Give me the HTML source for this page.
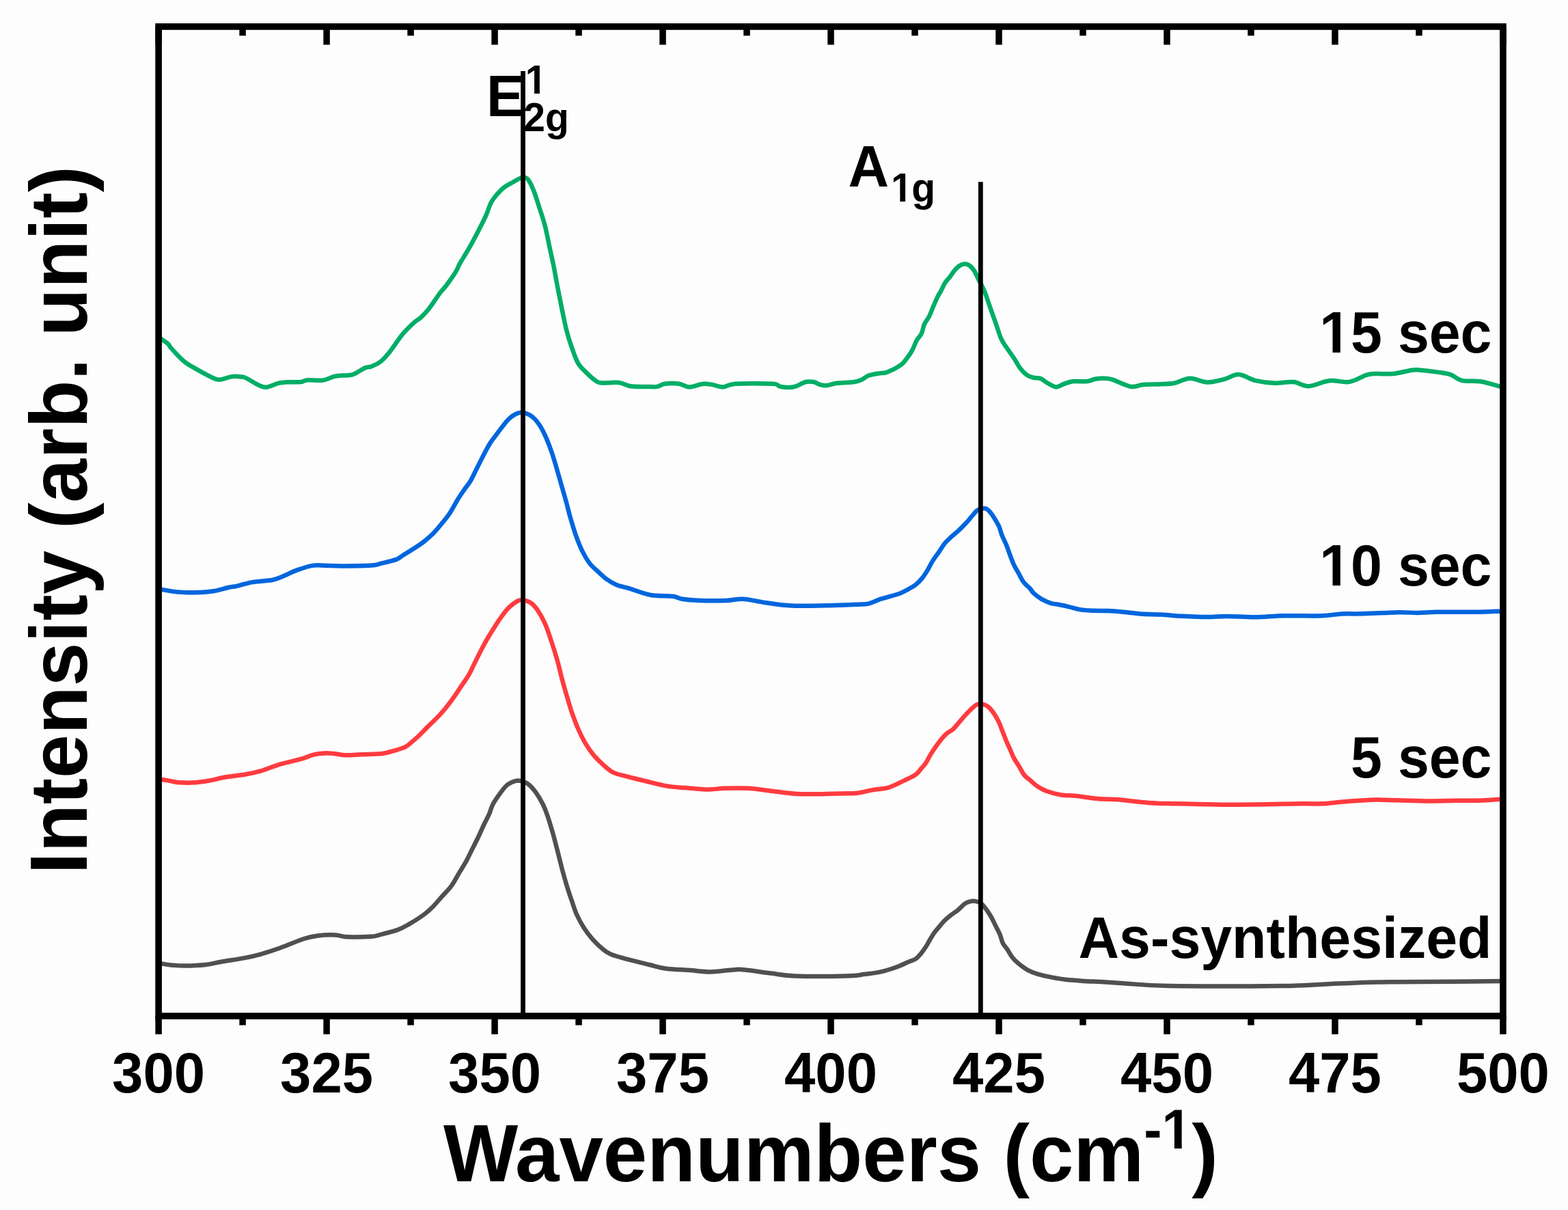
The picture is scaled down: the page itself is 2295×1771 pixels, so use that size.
<!DOCTYPE html><html><head><meta charset="utf-8"><title>Raman spectra</title><style>
html,body{margin:0;padding:0;background:#fdfdfd;}
svg{display:block;width:2295px;height:1771px;}
text{font-family:"Liberation Sans",Arial,sans-serif;font-weight:bold;fill:#000;}
</style></head><body>
<svg width="2295" height="1771" viewBox="0 0 2295 1771">
<rect x="0" y="0" width="2295" height="1771" fill="#fdfdfd"/>
<rect x="0" y="1766" width="2295" height="5" fill="#fff"/><rect x="0" y="0" width="1" height="1771" fill="#fff"/>
<path fill="none" stroke="#00AE66" stroke-width="6.5" stroke-linejoin="round" d="M232.0 493.4C234.3 495.0 242.6 500.3 245.7 503.0C248.8 505.7 246.5 505.2 250.3 509.4C254.1 513.6 263.2 523.5 268.6 528.2C274.0 532.9 275.5 533.4 282.4 537.4C289.3 541.4 303.3 549.2 309.8 552.2C316.3 555.2 316.3 555.9 321.3 555.7C326.3 555.5 334.3 551.8 339.6 551.1C344.9 550.4 349.9 551.2 353.3 551.6C356.7 552.0 356.0 551.4 360.2 553.4C364.4 555.4 373.5 561.5 378.5 563.7C383.5 565.9 385.0 567.2 390.0 566.7C395.0 566.2 403.4 561.9 408.3 560.7C413.2 559.5 414.4 559.6 419.7 559.3C425.0 559.0 435.3 559.6 440.3 559.1C445.3 558.6 444.1 556.8 449.5 556.4C454.9 556.0 465.9 557.5 472.4 556.6C478.9 555.7 484.2 552.2 488.4 551.1C492.6 550.0 493.0 550.2 497.6 549.7C502.2 549.2 509.8 550.3 515.9 548.4C522.0 546.5 529.6 540.5 534.2 538.5C538.8 536.5 539.6 537.9 543.4 536.4C547.2 534.9 552.5 532.9 557.1 529.3C561.7 525.6 565.5 521.2 570.8 514.5C576.1 507.8 583.4 496.2 589.1 489.3C594.8 482.4 600.6 477.0 605.2 472.8C609.8 468.6 612.8 467.7 616.6 464.1C620.4 460.6 623.5 457.4 628.1 451.5C632.7 445.6 640.0 434.1 644.1 428.6C648.2 423.1 648.7 423.8 652.5 418.7C656.3 413.6 663.5 403.4 667.0 397.9C670.5 392.3 670.1 390.9 673.2 385.4C676.3 379.9 681.2 372.6 685.7 364.7C690.2 356.8 696.1 345.7 700.3 337.7C704.4 329.7 707.5 323.8 710.6 316.9C713.7 310.0 716.2 301.5 719.0 296.1C721.8 290.7 724.2 288.3 727.3 284.7C730.4 281.1 733.9 277.2 737.7 274.3C741.5 271.4 745.6 269.4 750.1 267.0C754.6 264.6 760.9 260.4 764.7 259.7C768.5 259.0 770.2 259.6 773.0 262.9C775.8 266.2 778.5 272.6 781.3 279.5C784.1 286.4 786.8 295.8 789.6 304.4C792.4 313.0 795.5 322.0 797.9 331.4C800.3 340.8 802.0 350.8 804.1 360.5C806.2 370.2 808.3 379.2 810.4 389.6C812.5 400.0 814.5 412.1 816.6 422.8C818.7 433.5 820.7 443.9 822.8 454.0C824.9 464.1 827.0 474.8 829.1 483.1C831.2 491.4 832.5 495.9 835.3 503.9C838.1 511.9 841.9 524.0 845.7 530.9C849.5 537.8 853.7 540.9 858.2 545.4C862.7 549.9 868.9 555.4 872.7 557.9C876.5 560.4 875.5 560.0 881.0 560.4C886.5 560.8 898.9 559.2 905.9 560.0C912.9 560.8 916.2 564.2 922.9 565.2C929.5 566.2 939.3 565.8 945.8 565.9C952.3 566.0 957.2 566.6 961.8 565.9C966.4 565.2 967.9 562.4 973.3 561.7C978.6 561.0 988.0 560.9 993.9 561.7C999.8 562.5 1003.0 566.5 1008.7 566.5C1014.4 566.5 1022.7 562.6 1028.2 562.0C1033.7 561.4 1036.9 562.1 1041.9 562.9C1046.9 563.6 1052.3 566.7 1058.0 566.5C1063.7 566.3 1064.1 562.5 1076.3 561.7C1088.5 560.9 1120.5 561.1 1131.2 561.7C1141.9 562.3 1137.0 564.5 1140.4 565.4C1143.8 566.3 1148.0 566.9 1151.8 567.0C1155.6 567.1 1158.7 567.2 1163.3 565.9C1167.9 564.6 1174.7 560.1 1179.3 559.0C1183.9 557.9 1187.4 558.4 1190.8 559.0C1194.2 559.6 1196.9 562.0 1199.9 562.9C1203.0 563.8 1204.9 564.6 1209.1 564.2C1213.3 563.9 1218.2 561.7 1225.1 560.8C1232.0 559.9 1244.2 559.9 1250.3 559.0C1256.4 558.1 1258.3 557.0 1261.7 555.5C1265.1 554.0 1266.7 551.3 1270.9 549.8C1275.1 548.3 1282.3 547.2 1286.9 546.4C1291.5 545.6 1293.1 546.9 1298.4 544.8C1303.8 542.7 1314.0 537.4 1319.0 533.8C1324.0 530.2 1325.5 526.7 1328.2 523.2C1330.9 519.7 1332.8 517.1 1335.1 512.9C1337.4 508.6 1339.7 501.8 1342.0 497.7C1344.3 493.6 1347.0 492.0 1348.8 488.1C1350.6 484.2 1351.2 478.5 1353.0 474.4C1354.8 470.3 1357.5 468.0 1359.8 463.4C1362.1 458.8 1364.6 451.7 1366.7 446.9C1368.8 442.1 1370.4 438.3 1372.2 434.6C1374.0 430.9 1375.9 428.3 1377.7 424.9C1379.5 421.5 1381.2 417.2 1383.2 414.0C1385.2 410.8 1387.7 408.7 1390.0 405.7C1392.3 402.7 1394.6 398.9 1396.9 396.1C1399.2 393.4 1401.3 390.9 1403.8 389.2C1406.3 387.5 1409.5 386.3 1412.0 386.2C1414.5 386.1 1416.6 386.9 1418.9 388.5C1421.2 390.1 1423.5 392.6 1425.8 396.1C1428.1 399.7 1430.1 404.8 1432.6 409.8C1435.1 414.8 1438.2 419.7 1440.9 426.3C1443.7 432.9 1446.3 441.9 1449.1 449.7C1451.8 457.5 1454.7 465.2 1457.4 473.0C1460.2 480.8 1462.6 490.0 1465.6 496.4C1468.6 502.8 1472.0 506.7 1475.2 511.5C1478.4 516.3 1481.8 520.6 1484.8 525.2C1487.8 529.8 1490.1 535.1 1493.1 539.0C1496.1 542.9 1499.5 546.3 1502.7 548.6C1505.9 550.9 1508.9 551.8 1512.3 552.7C1515.7 553.6 1520.1 553.0 1523.3 554.1C1526.5 555.2 1527.8 557.6 1531.5 559.6C1535.2 561.6 1541.2 566.0 1545.3 566.4C1549.4 566.8 1552.2 563.7 1556.3 562.3C1560.4 560.9 1564.3 558.9 1570.0 558.2C1575.7 557.5 1585.1 558.8 1590.6 558.2C1596.1 557.6 1599.2 555.5 1603.0 554.8C1606.8 554.1 1609.6 553.7 1613.7 553.8C1617.8 553.9 1620.6 553.4 1627.5 555.4C1634.4 557.4 1647.3 564.6 1654.9 565.9C1662.5 567.2 1666.0 563.6 1673.3 563.0C1680.5 562.4 1690.8 562.7 1698.4 562.3C1706.0 561.9 1711.8 562.1 1719.0 560.7C1726.2 559.3 1733.9 554.0 1741.9 553.8C1749.9 553.6 1758.7 559.3 1767.1 559.5C1775.5 559.7 1784.7 556.8 1792.3 554.9C1799.9 553.0 1805.3 547.7 1812.9 548.1C1820.5 548.5 1829.3 555.1 1838.1 557.2C1846.9 559.3 1856.4 560.4 1865.6 560.7C1874.8 561.0 1884.6 558.4 1893.0 559.1C1901.4 559.9 1907.1 565.5 1915.9 565.2C1924.7 564.9 1935.9 558.2 1945.7 557.2C1955.5 556.2 1966.0 560.3 1975.0 558.9C1984.0 557.5 1993.2 550.8 2000.0 548.8C2006.8 546.8 2009.0 547.3 2015.5 547.0C2022.0 546.7 2030.8 547.9 2039.3 547.0C2047.8 546.1 2059.9 542.6 2066.7 541.7C2073.4 540.8 2073.7 541.2 2079.8 541.7C2086.0 542.2 2096.5 543.5 2103.6 544.6C2110.7 545.7 2116.4 546.1 2122.6 548.2C2128.8 550.3 2133.2 555.4 2140.5 557.1C2147.8 558.8 2156.9 556.7 2166.7 558.3C2176.4 559.9 2193.6 565.3 2199.0 566.7"/>
<path fill="none" stroke="#0066DD" stroke-width="6.5" stroke-linejoin="round" d="M232.0 862.0C235.8 862.6 248.0 865.0 254.9 865.9C261.8 866.8 267.1 867.0 273.2 867.2C279.3 867.4 285.0 867.3 291.5 867.0C298.0 866.7 304.9 866.4 312.1 865.2C319.4 864.0 329.3 860.9 335.0 859.7C340.7 858.5 340.8 859.1 346.5 857.8C352.2 856.5 360.6 853.6 369.4 852.1C378.2 850.6 391.5 850.2 399.1 848.7C406.7 847.2 409.5 845.3 415.2 843.0C420.9 840.7 426.2 837.5 433.5 834.9C440.8 832.3 450.3 828.7 458.7 827.6C467.1 826.5 475.8 828.0 483.8 828.1C491.8 828.2 496.8 828.6 506.7 828.5C516.6 828.4 535.0 828.2 543.4 827.6C551.8 827.0 551.0 826.4 557.1 824.9C563.2 823.4 574.7 820.8 580.0 818.9C585.3 817.0 584.5 816.1 589.1 813.2C593.7 810.3 602.4 805.1 607.5 801.7C612.6 798.4 615.6 796.6 620.0 793.1C624.4 789.6 629.5 785.3 633.8 781.0C638.1 776.7 641.8 772.2 645.8 767.3C649.8 762.4 653.9 757.8 657.9 751.8C661.9 745.8 666.2 737.1 669.9 731.1C673.6 725.1 677.1 720.2 680.2 715.6C683.4 711.0 685.9 708.5 688.8 703.6C691.7 698.7 694.6 692.1 697.5 686.4C700.4 680.7 703.0 675.2 706.1 669.2C709.2 663.2 713.2 655.4 716.4 650.2C719.5 645.0 721.9 642.5 725.0 638.2C728.1 633.9 731.9 628.7 735.3 624.4C738.7 620.1 742.1 615.5 745.6 612.4C749.1 609.2 752.8 606.9 756.0 605.5C759.2 604.1 761.5 603.5 764.6 603.8C767.8 604.1 771.8 605.5 774.9 607.2C778.0 608.9 780.6 611.0 783.5 614.1C786.4 617.2 789.5 621.8 792.1 626.1C794.7 630.4 796.4 633.9 799.0 639.9C801.6 645.9 805.0 654.8 807.6 662.3C810.2 669.8 812.2 677.0 814.5 684.7C816.8 692.5 819.1 700.8 821.4 708.8C823.7 716.8 826.0 724.6 828.3 732.9C830.6 741.2 832.5 749.8 835.1 758.7C837.7 767.6 840.9 778.2 843.8 786.2C846.7 794.2 849.2 800.6 852.4 806.9C855.5 813.2 859.0 819.2 862.7 824.1C866.4 829.0 870.4 832.1 874.7 836.1C879.0 840.1 883.9 844.9 888.5 848.2C893.1 851.5 896.6 853.6 902.3 855.9C908.0 858.2 914.5 859.3 922.9 861.8C931.3 864.3 942.4 869.2 952.7 871.0C963.0 872.8 977.1 871.8 984.7 872.8C992.3 873.8 991.5 875.7 998.4 876.7C1005.3 877.7 1015.2 878.6 1025.9 879.0C1036.6 879.4 1052.2 879.4 1062.5 879.0C1072.8 878.6 1078.2 876.2 1087.7 876.7C1097.2 877.2 1108.0 880.4 1119.8 882.0C1131.6 883.6 1141.9 885.9 1158.7 886.5C1175.5 887.1 1204.5 886.2 1220.5 885.9C1236.5 885.6 1246.5 885.1 1254.9 884.7C1263.3 884.3 1265.2 884.9 1270.9 883.6C1276.6 882.3 1281.6 879.2 1289.2 876.7C1296.8 874.2 1309.8 871.2 1316.7 868.7C1323.6 866.2 1326.5 863.9 1330.4 861.8C1334.3 859.7 1336.8 858.6 1340.0 856.0C1343.2 853.4 1346.6 850.1 1349.6 846.4C1352.6 842.7 1355.4 838.1 1357.9 834.0C1360.4 829.9 1362.0 826.0 1364.7 821.6C1367.4 817.2 1371.3 812.2 1374.3 807.9C1377.3 803.5 1379.6 799.2 1382.6 795.5C1385.6 791.8 1388.8 789.1 1392.2 785.9C1395.6 782.7 1399.5 779.7 1403.2 776.3C1406.9 772.9 1411.0 768.7 1414.2 765.3C1417.4 761.9 1419.7 758.8 1422.4 755.7C1425.2 752.6 1427.5 748.8 1430.7 746.8C1433.9 744.8 1438.6 743.7 1441.6 744.0C1444.6 744.3 1446.2 746.4 1448.5 748.8C1450.8 751.2 1453.1 754.8 1455.4 758.5C1457.7 762.2 1460.5 766.7 1462.3 770.8C1464.1 774.9 1464.6 778.6 1466.4 783.2C1468.2 787.8 1471.2 793.3 1473.2 798.3C1475.2 803.3 1476.9 808.6 1478.7 813.4C1480.5 818.2 1482.1 822.8 1484.2 827.1C1486.3 831.5 1488.8 835.4 1491.1 839.5C1493.4 843.6 1495.2 848.2 1498.0 851.9C1500.8 855.6 1505.1 858.8 1507.6 861.5C1510.1 864.2 1510.3 865.9 1513.1 868.4C1515.8 870.9 1520.0 874.2 1524.1 876.6C1528.2 879.0 1533.7 881.4 1537.8 882.8C1541.9 884.2 1544.2 883.9 1548.8 884.8C1553.4 885.7 1559.8 887.0 1565.3 888.3C1570.8 889.6 1575.8 891.5 1581.8 892.4C1587.8 893.3 1594.5 893.5 1601.0 893.8C1607.5 894.1 1614.1 893.8 1620.9 894.1C1627.7 894.4 1633.8 894.8 1641.9 895.5C1650.1 896.2 1660.1 897.8 1669.8 898.5C1679.5 899.2 1690.0 899.1 1700.0 899.6C1710.0 900.1 1718.7 901.2 1730.0 901.8C1741.3 902.4 1756.7 903.1 1767.6 903.1C1778.5 903.1 1783.9 901.9 1795.5 901.9C1807.1 901.9 1823.4 903.4 1837.4 903.3C1851.4 903.2 1863.0 901.6 1879.3 901.3C1895.6 901.0 1921.2 901.8 1935.2 901.3C1949.2 900.8 1953.8 899.0 1963.1 898.5C1972.4 898.0 1977.1 898.7 1991.1 898.3C2005.1 897.9 2032.9 896.5 2046.9 896.3C2060.9 896.1 2065.6 897.0 2074.9 896.9C2084.2 896.8 2088.8 896.0 2102.8 895.8C2116.8 895.6 2142.7 896.0 2158.7 895.8C2174.7 895.6 2192.3 894.6 2199.0 894.4"/>
<path fill="none" stroke="#FF3B3F" stroke-width="6.5" stroke-linejoin="round" d="M232.0 1140.1C234.3 1140.5 240.7 1141.6 245.7 1142.4C250.7 1143.2 254.9 1144.7 261.8 1145.2C268.7 1145.7 279.3 1145.7 286.9 1145.2C294.5 1144.7 300.6 1143.6 307.5 1142.4C314.4 1141.2 319.4 1139.3 328.2 1137.8C337.0 1136.3 351.4 1134.8 360.2 1133.3C369.0 1131.8 372.4 1131.2 380.8 1128.7C389.2 1126.2 400.3 1121.5 410.6 1118.4C420.9 1115.4 434.6 1112.7 442.6 1110.4C450.6 1108.1 453.4 1105.9 458.7 1104.6C464.0 1103.3 469.8 1102.7 474.7 1102.4C479.6 1102.1 483.1 1102.5 488.4 1103.0C493.7 1103.5 499.8 1105.1 506.7 1105.3C513.6 1105.5 520.8 1104.6 529.6 1104.2C538.4 1103.8 551.8 1103.8 559.6 1102.9C567.4 1102.0 570.8 1100.5 576.3 1098.9C581.8 1097.3 588.5 1095.5 592.9 1093.4C597.2 1091.3 599.2 1088.9 602.4 1086.3C605.6 1083.7 608.3 1081.4 611.9 1078.0C615.5 1074.6 620.0 1069.8 623.7 1066.1C627.4 1062.4 630.8 1059.2 634.0 1056.0C637.2 1052.8 639.8 1050.5 643.1 1046.9C646.4 1043.3 650.2 1039.0 653.8 1034.5C657.4 1030.0 660.9 1025.2 664.5 1020.2C668.1 1015.2 671.6 1009.5 675.2 1004.2C678.8 998.9 682.6 993.8 685.9 988.2C689.2 982.6 691.5 976.9 694.8 970.4C698.1 963.9 702.2 955.2 705.5 949.0C708.8 942.8 711.4 938.0 714.4 933.0C717.4 928.0 720.0 923.8 723.3 918.7C726.5 913.7 730.3 907.6 733.9 902.7C737.5 897.8 740.7 893.2 744.6 889.4C748.5 885.6 753.8 881.8 757.1 879.9C760.4 878.0 760.9 877.9 764.2 878.3C767.5 878.7 772.9 879.7 776.7 882.3C780.6 884.9 783.8 888.6 787.3 893.8C790.8 899.0 794.7 906.0 798.0 913.4C801.3 920.8 803.9 929.4 806.9 938.3C809.9 947.2 813.1 957.3 815.8 966.8C818.5 976.3 820.6 986.4 823.0 995.3C825.4 1004.2 827.7 1012.2 830.1 1020.2C832.5 1028.2 834.5 1035.7 837.2 1043.4C839.9 1051.1 842.8 1059.1 846.1 1066.5C849.4 1073.9 852.9 1081.4 856.8 1087.9C860.6 1094.4 864.8 1100.4 869.2 1105.7C873.7 1111.0 878.8 1115.8 883.5 1119.9C888.2 1124.1 891.9 1127.8 897.7 1130.6C903.5 1133.4 910.3 1134.4 918.3 1136.6C926.3 1138.8 936.3 1141.2 945.8 1143.5C955.3 1145.8 966.0 1148.8 975.5 1150.4C985.0 1152.0 992.7 1152.3 1003.0 1153.1C1013.3 1153.9 1027.9 1155.3 1037.4 1155.4C1047.0 1155.5 1050.8 1154.1 1060.3 1153.8C1069.8 1153.5 1083.2 1153.1 1094.6 1153.8C1106.0 1154.5 1117.5 1156.4 1128.9 1157.7C1140.4 1159.0 1151.8 1161.0 1163.3 1161.8C1174.8 1162.6 1186.1 1162.4 1197.6 1162.3C1209.0 1162.2 1222.5 1161.7 1232.0 1161.4C1241.5 1161.1 1247.3 1161.6 1254.9 1160.7C1262.5 1159.8 1270.1 1157.4 1277.7 1156.1C1285.3 1154.8 1293.0 1155.0 1300.6 1152.7C1308.2 1150.4 1316.9 1145.5 1323.5 1142.4C1330.1 1139.3 1335.9 1136.8 1340.0 1133.9C1344.1 1131.0 1345.7 1127.8 1348.2 1125.0C1350.7 1122.2 1352.8 1120.2 1355.1 1116.8C1357.4 1113.4 1359.5 1108.5 1362.0 1104.4C1364.5 1100.3 1367.2 1096.1 1370.2 1092.0C1373.2 1087.9 1377.0 1082.9 1379.8 1079.7C1382.5 1076.5 1384.2 1074.9 1386.7 1072.8C1389.2 1070.7 1391.9 1070.0 1394.9 1067.3C1397.9 1064.5 1401.4 1060.0 1404.6 1056.3C1407.8 1052.6 1411.2 1048.5 1414.2 1045.3C1417.2 1042.1 1419.7 1039.5 1422.4 1037.1C1425.2 1034.7 1427.5 1031.8 1430.7 1030.9C1433.9 1030.0 1438.6 1030.7 1441.6 1031.6C1444.6 1032.5 1446.2 1034.1 1448.5 1036.4C1450.8 1038.7 1453.1 1041.8 1455.4 1045.3C1457.7 1048.8 1460.2 1053.3 1462.3 1057.7C1464.3 1062.1 1465.9 1066.8 1467.7 1071.4C1469.5 1076.0 1471.4 1080.9 1473.2 1085.2C1475.0 1089.5 1476.9 1093.4 1478.7 1097.5C1480.5 1101.6 1482.1 1106.0 1484.2 1109.9C1486.3 1113.8 1488.6 1116.8 1491.1 1120.9C1493.6 1125.0 1496.3 1130.9 1499.3 1134.6C1502.3 1138.3 1505.8 1140.2 1509.0 1142.9C1512.2 1145.7 1514.7 1148.6 1518.6 1151.1C1522.5 1153.6 1526.6 1155.9 1532.3 1158.0C1538.0 1160.1 1546.0 1162.4 1552.9 1163.5C1559.8 1164.6 1566.6 1164.1 1573.5 1164.8C1580.4 1165.5 1587.2 1166.8 1594.1 1167.6C1601.0 1168.4 1607.7 1169.2 1614.7 1169.6C1621.7 1170.0 1625.2 1169.3 1636.3 1170.2C1647.3 1171.1 1667.0 1173.9 1681.0 1174.9C1695.0 1175.9 1698.2 1175.8 1720.1 1176.3C1742.0 1176.8 1781.6 1177.7 1812.3 1177.7C1843.0 1177.7 1884.0 1176.5 1904.5 1176.3C1925.0 1176.1 1925.0 1176.8 1935.2 1176.3C1945.4 1175.8 1953.8 1174.4 1965.9 1173.5C1978.0 1172.6 1994.8 1171.1 2007.8 1170.7C2020.8 1170.3 2030.1 1170.9 2044.1 1171.2C2058.1 1171.5 2077.2 1172.3 2091.6 1172.4C2106.0 1172.5 2117.7 1172.0 2130.7 1171.8C2143.7 1171.6 2158.4 1171.9 2169.8 1171.5C2181.2 1171.1 2194.1 1169.9 2199.0 1169.6"/>
<path fill="none" stroke="#505050" stroke-width="6.5" stroke-linejoin="round" d="M232.0 1409.7C235.1 1410.2 243.8 1411.8 250.3 1412.4C256.8 1413.1 262.5 1413.7 270.9 1413.6C279.3 1413.5 291.9 1413.0 300.7 1412.0C309.5 1411.0 314.1 1409.5 323.6 1407.8C333.1 1406.1 348.4 1403.9 357.9 1402.1C367.4 1400.3 372.0 1399.3 380.8 1396.8C389.6 1394.3 399.9 1391.0 410.6 1387.2C421.3 1383.4 435.8 1377.0 444.9 1374.0C454.0 1371.0 457.9 1370.3 465.5 1369.4C473.1 1368.5 483.8 1368.2 490.7 1368.5C497.6 1368.8 497.9 1370.8 506.7 1371.2C515.5 1371.6 535.0 1371.4 543.4 1370.8C551.8 1370.2 550.6 1369.4 557.1 1367.8C563.6 1366.2 575.4 1363.4 582.3 1360.9C589.2 1358.4 592.0 1356.6 598.3 1352.9C604.6 1349.2 614.0 1343.4 620.0 1339.0C626.0 1334.6 629.8 1331.0 634.2 1326.5C638.7 1322.0 642.2 1317.3 646.7 1312.3C651.2 1307.3 656.8 1301.9 660.9 1296.3C665.0 1290.7 668.0 1284.4 671.6 1278.4C675.2 1272.5 679.0 1266.5 682.3 1260.6C685.6 1254.7 688.2 1248.7 691.2 1242.8C694.2 1236.9 697.1 1231.2 700.1 1225.0C703.1 1218.8 706.3 1211.1 709.0 1205.5C711.7 1199.9 714.0 1196.0 716.1 1191.2C718.2 1186.5 718.8 1182.0 721.5 1177.0C724.2 1172.0 728.7 1165.7 732.2 1160.9C735.8 1156.2 738.9 1151.5 742.8 1148.5C746.6 1145.5 752.0 1143.7 755.3 1142.8C758.6 1141.9 759.4 1142.3 762.4 1143.1C765.4 1143.9 769.5 1144.9 773.1 1147.6C776.7 1150.3 780.2 1154.3 783.8 1159.2C787.4 1164.1 791.5 1171.1 794.5 1177.0C797.5 1182.9 799.2 1188.0 801.6 1194.8C804.0 1201.6 806.3 1209.6 808.7 1217.9C811.1 1226.2 813.4 1235.4 815.8 1244.6C818.2 1253.8 820.6 1264.2 823.0 1273.1C825.4 1282.0 827.7 1290.3 830.1 1298.0C832.5 1305.7 834.8 1312.6 837.2 1319.4C839.6 1326.2 841.3 1332.5 844.3 1339.0C847.3 1345.5 851.4 1353.0 855.0 1358.6C858.6 1364.2 861.6 1368.1 865.7 1372.8C869.9 1377.5 875.1 1383.0 879.9 1387.0C884.6 1391.0 887.0 1393.8 894.2 1396.8C901.4 1399.8 913.5 1402.7 922.9 1405.2C932.3 1407.7 941.6 1409.9 950.4 1412.0C959.2 1414.1 965.6 1416.5 975.5 1417.8C985.4 1419.1 999.6 1419.3 1009.9 1420.1C1020.2 1420.9 1029.8 1422.2 1037.4 1422.4C1045.0 1422.6 1048.8 1421.8 1055.7 1421.2C1062.6 1420.6 1072.1 1419.1 1078.6 1418.9C1085.1 1418.7 1086.2 1419.1 1094.6 1420.1C1103.0 1421.0 1117.5 1423.2 1128.9 1424.6C1140.4 1426.0 1145.0 1427.8 1163.3 1428.5C1181.6 1429.2 1221.6 1429.0 1238.8 1428.5C1256.0 1428.0 1257.9 1426.8 1266.3 1425.8C1274.7 1424.8 1281.6 1424.1 1289.2 1422.4C1296.8 1420.7 1305.2 1418.0 1312.1 1415.5C1319.0 1413.0 1325.8 1409.5 1330.4 1407.5C1335.1 1405.5 1337.0 1405.6 1340.0 1403.6C1343.0 1401.6 1345.7 1398.4 1348.2 1395.4C1350.7 1392.4 1353.0 1389.0 1355.1 1385.8C1357.2 1382.6 1358.5 1379.6 1360.6 1376.2C1362.7 1372.8 1365.2 1368.4 1367.5 1365.2C1369.8 1362.0 1371.8 1359.9 1374.3 1356.9C1376.8 1353.9 1379.6 1350.3 1382.6 1347.3C1385.6 1344.3 1389.0 1341.6 1392.2 1339.1C1395.4 1336.6 1398.6 1334.8 1401.8 1332.2C1405.0 1329.6 1408.7 1325.4 1411.4 1323.3C1414.2 1321.2 1415.5 1320.5 1418.3 1319.8C1421.0 1319.1 1424.9 1318.6 1427.9 1319.1C1430.9 1319.6 1433.5 1320.4 1436.2 1322.6C1439.0 1324.8 1441.9 1328.8 1444.4 1332.2C1446.9 1335.6 1449.2 1339.5 1451.3 1343.2C1453.4 1346.9 1454.8 1350.1 1456.8 1354.2C1458.8 1358.3 1461.8 1363.6 1463.6 1367.9C1465.4 1372.2 1465.9 1376.6 1467.7 1380.3C1469.5 1384.0 1472.3 1386.5 1474.6 1389.9C1476.9 1393.3 1478.8 1397.5 1481.5 1400.9C1484.2 1404.3 1487.2 1407.3 1491.1 1410.5C1495.0 1413.7 1500.2 1417.6 1504.8 1420.1C1509.4 1422.6 1512.9 1423.9 1518.6 1425.6C1524.3 1427.3 1532.3 1429.0 1539.2 1430.4C1546.1 1431.8 1551.8 1432.9 1559.8 1433.8C1567.8 1434.7 1578.1 1435.3 1587.3 1435.9C1596.5 1436.5 1605.1 1436.7 1614.7 1437.3C1624.3 1437.9 1628.5 1438.3 1644.7 1439.3C1660.9 1440.2 1673.1 1442.4 1711.7 1443.0C1750.3 1443.6 1839.2 1443.4 1876.5 1443.0C1913.8 1442.6 1911.9 1441.6 1935.2 1440.7C1958.5 1439.8 1979.9 1438.1 2016.2 1437.4C2052.5 1436.7 2122.6 1436.7 2153.1 1436.5C2183.6 1436.3 2191.3 1436.1 2199.0 1436.0"/>
<line x1="765.5" y1="104.1" x2="765.5" y2="1487" stroke="#000" stroke-width="6.8"/>
<line x1="1435.3" y1="266.3" x2="1435.3" y2="1487" stroke="#000" stroke-width="6.8"/>
<rect x="232.1" y="38.95" width="1967.85" height="1448.15" fill="none" stroke="#000" stroke-width="9.6"/>
<path d="M232.10 1487.10V1513.70M232.10 38.95V65.55M355.09 1487.10V1500.40M355.09 38.95V52.25M478.08 1487.10V1513.70M478.08 38.95V65.55M601.07 1487.10V1500.40M601.07 38.95V52.25M724.06 1487.10V1513.70M724.06 38.95V65.55M847.05 1487.10V1500.40M847.05 38.95V52.25M970.04 1487.10V1513.70M970.04 38.95V65.55M1093.03 1487.10V1500.40M1093.03 38.95V52.25M1216.02 1487.10V1513.70M1216.02 38.95V65.55M1339.02 1487.10V1500.40M1339.02 38.95V52.25M1462.01 1487.10V1513.70M1462.01 38.95V65.55M1585.00 1487.10V1500.40M1585.00 38.95V52.25M1707.99 1487.10V1513.70M1707.99 38.95V65.55M1830.98 1487.10V1500.40M1830.98 38.95V52.25M1953.97 1487.10V1513.70M1953.97 38.95V65.55M2076.96 1487.10V1500.40M2076.96 38.95V52.25M2199.95 1487.10V1513.70M2199.95 38.95V65.55" stroke="#000" stroke-width="9.5" fill="none"/>
<text transform="translate(232.10,1598.70) scale(1,1.025)" font-size="81.5" text-anchor="middle">300</text>
<text transform="translate(478.08,1598.70) scale(1,1.025)" font-size="81.5" text-anchor="middle">325</text>
<text transform="translate(724.06,1598.70) scale(1,1.025)" font-size="81.5" text-anchor="middle">350</text>
<text transform="translate(970.04,1598.70) scale(1,1.025)" font-size="81.5" text-anchor="middle">375</text>
<text transform="translate(1216.02,1598.70) scale(1,1.025)" font-size="81.5" text-anchor="middle">400</text>
<text transform="translate(1462.01,1598.70) scale(1,1.025)" font-size="81.5" text-anchor="middle">425</text>
<text transform="translate(1707.99,1598.70) scale(1,1.025)" font-size="81.5" text-anchor="middle">450</text>
<text transform="translate(1953.97,1598.70) scale(1,1.025)" font-size="81.5" text-anchor="middle">475</text>
<text transform="translate(2199.95,1598.70) scale(1,1.025)" font-size="81.5" text-anchor="middle">500</text>
<text transform="translate(127.1,1279.6) rotate(-90) scale(1,1.025)" x="0" y="0" font-size="115.2">Intensity (arb. unit)</text>
<clipPath id="nofoot"><path clip-rule="evenodd" d="M0 0H2295V1771H0ZM1703.47 1671.39H1718.88V1682.92H1703.47ZM1729.68 1671.39H1744.09V1682.92H1729.68ZM1934.42 506.37H1950.48V518.30H1934.42ZM1961.79 506.37H1976.81V518.30H1961.79ZM1934.42 847.47H1950.48V859.40H1934.42ZM1961.79 847.47H1976.81V859.40H1961.79ZM770.39 129.64H782.10V138.90H770.39ZM789.92 129.64H800.91V138.90H789.92ZM1305.59 287.54H1317.30V296.80H1305.59ZM1325.12 287.54H1336.11V296.80H1325.12Z"/></clipPath>
<g clip-path="url(#nofoot)">
<text transform="translate(649.00,1729.10) scale(1,1.025)" font-size="115.8">Wavenumbers (cm<tspan font-size="78.7" dy="-47">-1</tspan><tspan dy="47">)</tspan></text>
<text transform="translate(2183.50,516.30) scale(1,1.025)" font-size="82.5" text-anchor="end">15 sec</text>
<text transform="translate(2183.50,857.40) scale(1,1.025)" font-size="82.5" text-anchor="end">10 sec</text>
<text transform="translate(2183.50,1137.60) scale(1,1.025)" font-size="82.5" text-anchor="end">5 sec</text>
<text transform="translate(2183.50,1402.30) scale(1,1.025)" font-size="82.5" text-anchor="end">As-synthesized</text>
<text transform="translate(712.00,169.70) scale(1,1.025)" font-size="82.5">E</text>
<text transform="translate(768.80,136.90) scale(1,1.025)" font-size="57">1</text>
<text transform="translate(766.20,191.50) scale(1,1.025)" font-size="57">2g</text>
<text transform="translate(1241.50,272.90) scale(1,1.025)" font-size="82.5">A</text>
<text transform="translate(1304.00,294.80) scale(1,1.025)" font-size="57">1</text>
<text transform="translate(1334.20,294.80) scale(1,1.025)" font-size="57">g</text>
</g>
</svg></body></html>
